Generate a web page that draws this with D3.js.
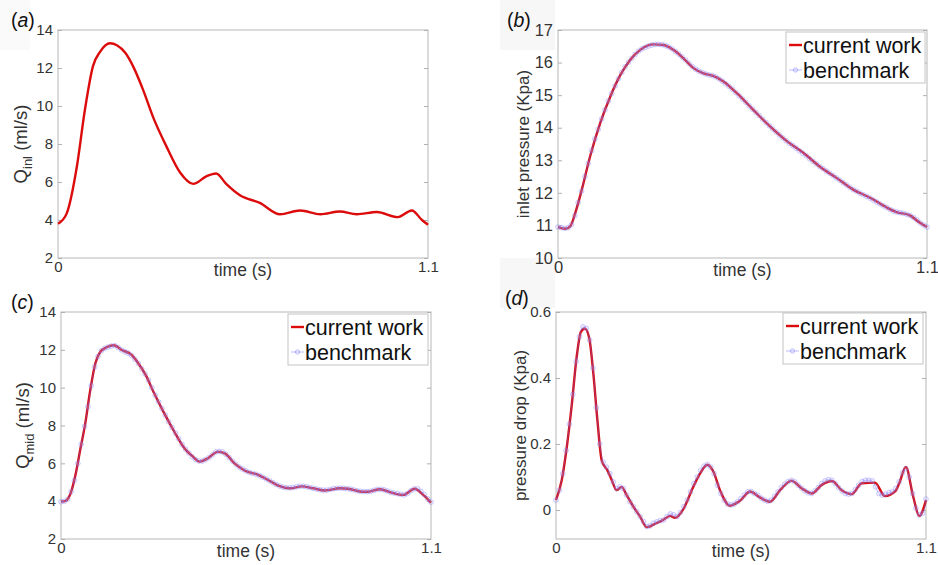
<!DOCTYPE html>
<html>
<head>
<meta charset="utf-8">
<script src="https://cdn.jsdelivr.net/npm/d3@7"></script>
<style>
  body { margin: 0; background: #fff; }
  svg { font-family: "Liberation Sans", Arial, Helvetica, sans-serif; }
</style>
</head>
<body>
<script>
// ---- data ----
// (a) inlet flow, current work only
var tA = [0, 0.026, 0.056, 0.08, 0.104, 0.125, 0.155, 0.175, 0.2, 0.223, 0.253, 0.283, 0.323, 0.363, 0.402, 0.441, 0.47, 0.5, 0.541, 0.6, 0.66, 0.72, 0.78, 0.838, 0.888, 0.948, 1.01, 1.052, 1.082, 1.1];
var qInl = [3.8, 4.35, 6.8, 9.8, 12.1, 12.85, 13.3, 13.2, 12.8, 12.1, 10.85, 9.4, 7.85, 6.5, 5.9, 6.3, 6.45, 5.9, 5.3, 4.9, 4.3, 4.5, 4.3, 4.45, 4.3, 4.42, 4.15, 4.5, 4.0, 3.75];

// (b) inlet pressure
var tB = [0, 0.022, 0.037, 0.052, 0.071, 0.096, 0.126, 0.156, 0.186, 0.215, 0.245, 0.285, 0.315, 0.344, 0.374, 0.404, 0.434, 0.463, 0.493, 0.533, 0.582, 0.632, 0.682, 0.731, 0.781, 0.83, 0.88, 0.93, 0.98, 1.009, 1.049, 1.078, 1.1];
var pInlet = [10.95, 10.9, 10.98, 11.4, 12.1, 13.13, 14.15, 14.96, 15.62, 16.08, 16.39, 16.56, 16.54, 16.39, 16.13, 15.83, 15.67, 15.59, 15.42, 15.06, 14.55, 14.04, 13.59, 13.23, 12.8, 12.46, 12.1, 11.85, 11.55, 11.41, 11.31, 11.09, 10.95];

// (c) mid flow
var tC = [0, 0.012, 0.022, 0.032, 0.042, 0.057, 0.072, 0.087, 0.102, 0.117, 0.137, 0.157, 0.182, 0.207, 0.227, 0.252, 0.277, 0.307, 0.337, 0.367, 0.392, 0.412, 0.437, 0.467, 0.487, 0.516, 0.546, 0.586, 0.616, 0.646, 0.681, 0.716, 0.75, 0.785, 0.829, 0.854, 0.894, 0.913, 0.948, 0.983, 1.018, 1.052, 1.077, 1.1];
var qMid = [3.98, 4.0, 4.16, 4.6, 5.3, 6.7, 8.1, 9.87, 11.28, 11.9, 12.15, 12.24, 11.98, 11.77, 11.36, 10.66, 9.7, 8.64, 7.67, 6.8, 6.35, 6.09, 6.27, 6.62, 6.53, 6.0, 5.62, 5.39, 5.12, 4.82, 4.68, 4.78, 4.68, 4.56, 4.68, 4.66, 4.5, 4.5, 4.63, 4.45, 4.33, 4.66, 4.33, 3.92];

// (d) pressure drop
var tD = [0, 0.017, 0.032, 0.047, 0.061, 0.074, 0.086, 0.099, 0.111, 0.123, 0.136, 0.153, 0.166, 0.18, 0.195, 0.21, 0.23, 0.25, 0.27, 0.294, 0.319, 0.339, 0.354, 0.378, 0.408, 0.428, 0.45, 0.468, 0.4875, 0.517, 0.547, 0.577, 0.606, 0.636, 0.666, 0.7, 0.73, 0.76, 0.79, 0.82, 0.849, 0.879, 0.909, 0.948, 0.978, 1.008, 1.02, 1.04, 1.062, 1.08, 1.1];
var pDrop = [0.03, 0.09, 0.19, 0.32, 0.46, 0.54, 0.55, 0.52, 0.414, 0.273, 0.15, 0.12, 0.09, 0.06, 0.07, 0.045, 0.01, -0.02, -0.052, -0.042, -0.03, -0.018, -0.024, 0.002, 0.07, 0.11, 0.137, 0.116, 0.06, 0.013, 0.028, 0.056, 0.038, 0.025, 0.06, 0.089, 0.066, 0.05, 0.076, 0.088, 0.06, 0.048, 0.081, 0.083, 0.042, 0.056, 0.08, 0.13, 0.04, -0.018, 0.03];

// benchmark markers, every 0.01 s
var tBench = [0, 0.01, 0.02, 0.03, 0.04, 0.05, 0.06, 0.07, 0.08, 0.09,
  0.1, 0.11, 0.12, 0.13, 0.14, 0.15, 0.16, 0.17, 0.18, 0.19,
  0.2, 0.21, 0.22, 0.23, 0.24, 0.25, 0.26, 0.27, 0.28, 0.29,
  0.3, 0.31, 0.32, 0.33, 0.34, 0.35, 0.36, 0.37, 0.38, 0.39,
  0.4, 0.41, 0.42, 0.43, 0.44, 0.45, 0.46, 0.47, 0.48, 0.49,
  0.5, 0.51, 0.52, 0.53, 0.54, 0.55, 0.56, 0.57, 0.58, 0.59,
  0.6, 0.61, 0.62, 0.63, 0.64, 0.65, 0.66, 0.67, 0.68, 0.69,
  0.7, 0.71, 0.72, 0.73, 0.74, 0.75, 0.76, 0.77, 0.78, 0.79,
  0.8, 0.81, 0.82, 0.83, 0.84, 0.85, 0.86, 0.87, 0.88, 0.89,
  0.9, 0.91, 0.92, 0.93, 0.94, 0.95, 0.96, 0.97, 0.98, 0.99,
  1.0, 1.01, 1.02, 1.03, 1.04, 1.05, 1.06, 1.07, 1.08, 1.09, 1.1];
var benchB = [10.95, 10.93, 10.91, 10.93, 11.02, 11.3, 11.7, 12.05, 12.5, 12.9,
  13.3, 13.65, 13.95, 14.27, 14.55, 14.82, 15.05, 15.28, 15.5, 15.7,
  15.87, 16.01, 16.13, 16.25, 16.35, 16.42, 16.47, 16.51, 16.54, 16.56,
  16.56, 16.55, 16.52, 16.48, 16.42, 16.34, 16.26, 16.17, 16.08, 15.98,
  15.88, 15.8, 15.74, 15.69, 15.65, 15.62, 15.6, 15.56, 15.5, 15.43,
  15.35, 15.27, 15.18, 15.08, 14.98, 14.88, 14.78, 14.67, 14.57, 14.47,
  14.37, 14.26, 14.16, 14.06, 13.96, 13.87, 13.78, 13.69, 13.6, 13.52,
  13.45, 13.37, 13.29, 13.21, 13.14, 13.05, 12.97, 12.89, 12.81, 12.74,
  12.67, 12.6, 12.53, 12.46, 12.39, 12.31, 12.24, 12.17, 12.1, 12.05,
  11.99, 11.94, 11.89, 11.84, 11.78, 11.72, 11.66, 11.6, 11.55, 11.49,
  11.44, 11.41, 11.39, 11.37, 11.34, 11.3, 11.24, 11.17, 11.08, 11.01, 10.95];
var benchC = [3.97, 3.99, 4.1, 4.5, 5.1, 6.0, 7.0, 7.95, 9.0, 10.1,
  11.1, 11.65, 11.95, 12.08, 12.15, 12.2, 12.22, 12.12, 12.0, 11.9,
  11.82, 11.7, 11.5, 11.28, 11.0, 10.72, 10.4, 10.0, 9.6, 9.25,
  8.9, 8.55, 8.2, 7.9, 7.6, 7.3, 7.0, 6.75, 6.55, 6.35,
  6.2, 6.12, 6.12, 6.2, 6.3, 6.45, 6.6, 6.63, 6.6, 6.48,
  6.3, 6.12, 5.95, 5.8, 5.7, 5.6, 5.52, 5.47, 5.42, 5.35,
  5.27, 5.18, 5.08, 4.98, 4.88, 4.8, 4.74, 4.71, 4.7, 4.72,
  4.76, 4.79, 4.79, 4.76, 4.72, 4.68, 4.64, 4.6, 4.58, 4.58,
  4.62, 4.66, 4.68, 4.69, 4.68, 4.66, 4.64, 4.6, 4.55, 4.52,
  4.5, 4.5, 4.52, 4.57, 4.62, 4.63, 4.6, 4.54, 4.47, 4.43,
  4.4, 4.36, 4.33, 4.4, 4.55, 4.65, 4.65, 4.52, 4.35, 4.12, 3.95];
var benchD = [0.03, 0.06, 0.11, 0.18, 0.26, 0.35, 0.45, 0.525, 0.555, 0.55,
  0.515, 0.43, 0.31, 0.2, 0.145, 0.13, 0.11, 0.085, 0.065, 0.07,
  0.065, 0.045, 0.025, 0.01, -0.005, -0.02, -0.035, -0.05, -0.048, -0.04,
  -0.036, -0.032, -0.03, -0.02, -0.012, -0.015, -0.02, -0.008, 0.01, 0.03,
  0.055, 0.08, 0.1, 0.12, 0.133, 0.138, 0.13, 0.11, 0.075, 0.05,
  0.03, 0.018, 0.015, 0.018, 0.025, 0.035, 0.045, 0.055, 0.056, 0.05,
  0.045, 0.036, 0.03, 0.026, 0.03, 0.042, 0.055, 0.068, 0.078, 0.086,
  0.09, 0.085, 0.075, 0.066, 0.058, 0.052, 0.05, 0.058, 0.068, 0.08,
  0.088, 0.092, 0.09, 0.08, 0.068, 0.058, 0.05, 0.048, 0.05, 0.062,
  0.075, 0.086, 0.09, 0.09, 0.088, 0.07, 0.05, 0.045, 0.048, 0.052,
  0.055, 0.065, 0.085, 0.112, 0.125, 0.1, 0.05, 0.005, -0.015, -0.01, 0.033];

var ticksQ = [2, 4, 6, 8, 10, 12, 14];
var ticksP = [10, 11, 12, 13, 14, 15, 16, 17];
var ticksDrop = [0, 0.2, 0.4, 0.6];
var legendNames = ["current work", "benchmark"];

var W = 938, H = 565;
var RED = "#dc0c0c", BLUE = "rgba(105,105,255,0.45)", BFILL = "rgba(185,185,255,0.22)";

var svg = d3.select("body").append("svg")
  .attr("width", W)
  .attr("height", H);

// faint scan patches around some panel letters
svg.append("rect").attr("x", 0).attr("y", 0).attr("width", 30).attr("height", 50).attr("fill", "#fafafa");
svg.append("rect").attr("x", 500).attr("y", 0).attr("width", 55).attr("height", 50).attr("fill", "#f7f7f7");
svg.append("rect").attr("x", 500).attr("y", 258).attr("width", 55).attr("height", 50).attr("fill", "#f7f7f7");

function zip(ts, vs) { return ts.map(function(t, i) { return [t, vs[i]]; }); }

function panel(p) {
  var x = d3.scaleLinear().domain([0, 1.1]).range([p.x0, p.x1]);
  var y = d3.scaleLinear().domain(p.ydom).range([p.y1, p.y0]);
  var g = svg.append("g");

  // box
  g.append("rect")
    .attr("x", p.x0).attr("y", p.y0)
    .attr("width", p.x1 - p.x0).attr("height", p.y1 - p.y0)
    .attr("fill", "white").attr("stroke", "#c4c4c4").attr("stroke-width", 1.2);

  // left axis, ticks pointing in
  var ax = g.append("g").attr("transform", "translate(" + p.x0 + ",0)")
    .call(d3.axisLeft(y).tickValues(p.ticks).tickSize(-4).tickPadding(5).tickFormat(p.fmt));
  ax.select(".domain").remove();
  ax.selectAll("line").attr("stroke", "#b0b0b0");
  ax.selectAll("text").attr("font-size", p.fs).attr("fill", "#333").attr("font-family", null);

  var ar = g.append("g").attr("transform", "translate(" + p.x1 + ",0)")
    .call(d3.axisRight(y).tickValues(p.ticks).tickSize(-4).tickFormat(""));
  ar.select(".domain").remove();
  ar.selectAll("line").attr("stroke", "#b0b0b0");

  var bx = g.append("g").attr("transform", "translate(0," + p.y1 + ")")
    .call(d3.axisBottom(x).tickValues([0, 1.1]).tickSize(0).tickPadding(3)
      .tickFormat(function(d) { return d === 0 ? "0" : "1.1"; }));
  bx.select(".domain").remove();
  bx.selectAll("text").attr("font-size", p.fs).attr("fill", "#333").attr("font-family", null);

  // x label
  g.append("text")
    .attr("x", (p.x0 + p.x1) / 2).attr("y", p.y1 + 18)
    .attr("text-anchor", "middle").attr("font-size", 17.5).attr("fill", "#333")
    .text("time (s)");

  // y label (rotated, with optional subscript)
  var yl = g.append("text")
    .attr("transform", "translate(" + p.ylx + "," + (p.y0 + p.y1) / 2 + ") rotate(-90)")
    .attr("text-anchor", "middle").attr("font-size", 18.5).attr("fill", "#333");
  if (p.sub) {
    yl.append("tspan").text("Q");
    yl.append("tspan").attr("font-size", 13).attr("dy", 5).text(p.sub);
    yl.append("tspan").attr("dy", -5).text(" (ml/s)");
  } else {
    yl.attr("font-size", 17).text(p.ylabel);
  }

  // panel letter
  var lt = g.append("text").attr("x", p.lx).attr("y", p.ly).attr("font-size", 19.5).attr("fill", "#111");
  lt.append("tspan").text("(");
  lt.append("tspan").attr("font-style", "italic").text(p.letter);
  lt.append("tspan").text(")");

  var line = d3.line()
    .x(function(d) { return x(d[0]); })
    .y(function(d) { return y(d[1]); })
    .curve(d3.curveMonotoneX);

  var marks = g.append("g");
  marks.append("path")
    .datum(zip(p.t, p.v))
    .attr("d", line)
    .attr("fill", "none").attr("stroke", RED).attr("stroke-width", 2.4);

  if (p.bench) {
    var bd = zip(tBench, p.bench);
    marks.append("path")
      .datum(bd)
      .attr("d", line)
      .attr("fill", "none").attr("stroke", BLUE).attr("stroke-width", 0.9);
    marks.selectAll("circle.m").data(bd).enter().append("circle")
      .attr("class", "m")
      .attr("cx", function(d) { return x(d[0]); })
      .attr("cy", function(d) { return y(d[1]); })
      .attr("r", 2.4)
      .attr("fill", BFILL)
      .attr("stroke", BLUE).attr("stroke-width", 0.7);

    // legend
    var L = g.append("g");
    L.append("rect")
      .attr("x", p.leg[0]).attr("y", p.leg[1])
      .attr("width", p.leg[2]).attr("height", 51)
      .attr("fill", "white").attr("stroke", "#c4c4c4").attr("stroke-width", 1);
    var lx = p.leg[0] + 3, ly = p.leg[1] + 13;
    L.append("line").attr("x1", lx).attr("x2", lx + 13).attr("y1", ly).attr("y2", ly)
      .attr("stroke", RED).attr("stroke-width", 2.4);
    L.append("line").attr("x1", lx).attr("x2", lx + 13).attr("y1", ly + 25).attr("y2", ly + 25)
      .attr("stroke", BLUE).attr("stroke-width", 1);
    L.append("circle").attr("cx", lx + 6.5).attr("cy", ly + 25).attr("r", 2.2)
      .attr("fill", BFILL).attr("stroke", BLUE).attr("stroke-width", 0.8);
    legendNames.forEach(function(n, i) {
      L.append("text").attr("x", lx + 14).attr("y", ly + 7.5 + i * 25)
        .attr("font-size", 21.5).attr("fill", "#111").text(n);
    });
  }
}

panel({ x0: 58, x1: 428, y0: 30, y1: 258, ydom: [2, 14], ticks: ticksQ, fmt: d3.format("d"), fs: 15,
  t: tA, v: qInl, sub: "inl", ylx: 27, letter: "a", lx: 11, ly: 27 });
panel({ x0: 558, x1: 927, y0: 30, y1: 258, ydom: [10, 17], ticks: ticksP, fmt: d3.format("d"), fs: 16.5,
  t: tB, v: pInlet, bench: benchB, ylabel: "inlet pressure (Kpa)", ylx: 529, letter: "b", lx: 507, ly: 27,
  leg: [786, 32, 139] });
panel({ x0: 61, x1: 431, y0: 312, y1: 539, ydom: [2, 14], ticks: ticksQ, fmt: d3.format("d"), fs: 15,
  t: tC, v: qMid, bench: benchC, sub: "mid", ylx: 29, letter: "c", lx: 11, ly: 309,
  leg: [288, 314, 140] });
panel({ x0: 556, x1: 926, y0: 312, y1: 539, ydom: [-0.088, 0.6], ticks: ticksDrop, fs: 15,
  fmt: function(d) { return d === 0 ? "0" : d3.format(".1f")(d); },
  t: tD, v: pDrop, bench: benchD, ylabel: "pressure drop (Kpa)", ylx: 526, letter: "d", lx: 505, ly: 305,
  leg: [783, 313, 140] });
</script>
</body>
</html>
